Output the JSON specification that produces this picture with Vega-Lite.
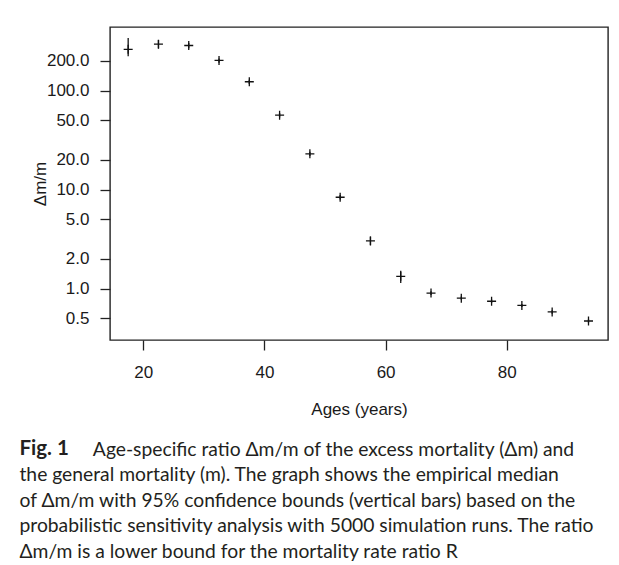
{
  "$schema": "https://vega.github.io/schema/vega-lite/v6.json",
  "autosize": {"type": "none"},
  "padding": {"left": 110, "top": 27, "right": 11, "bottom": 225},
  "width": 498,
  "height": 313,
  "background": "white",
  "config": {
    "view": {"stroke": "#222222", "strokeWidth": 1.4},
    "axis": {"labelFont": "Liberation Sans", "titleFont": "Liberation Sans", "labelFontSize": 17, "titleFontSize": 17, "labelColor": "#1a1a1a", "titleColor": "#1a1a1a", "titleFontWeight": "normal", "tickColor": "#222222", "tickWidth": 1.3, "tickSize": 10, "domain": false, "grid": false}
  },
  "title": {
    "text": "Fig. 1",
    "subtitle": [
      "\u200b\u00a0\u00a0\u00a0\u00a0\u00a0\u00a0\u00a0\u00a0\u00a0\u00a0\u00a0\u00a0\u00a0\u00a0\u00a0Age-specific ratio Δm/m of the excess mortality (Δm) and",
      "the general mortality (m). The graph shows the empirical median",
      "of Δm/m with 95% confidence bounds (vertical bars) based on the",
      "probabilistic sensitivity analysis with 5000 simulation runs. The ratio",
      "Δm/m is a lower bound for the mortality rate ratio R"
    ],
    "orient": "bottom",
    "anchor": "start",
    "frame": "bounds",
    "font": "Lato",
    "fontSize": 20.5,
    "fontWeight": "bold",
    "lineHeight": 19,
    "color": "#231f20",
    "subtitleFont": "Lato",
    "subtitleFontSize": 19.3,
    "subtitleFontWeight": "normal",
    "subtitleColor": "#231f20",
    "subtitleLineHeight": 25.5,
    "subtitlePadding": -19,
    "offset": 22,
    "dx": -12
  },
  "data": {"values": [
    {"age": 17.5, "ratio": 262, "lo": 223, "hi": 340},
    {"age": 22.5, "ratio": 295, "lo": 268, "hi": 325},
    {"age": 27.5, "ratio": 286, "lo": 268, "hi": 303},
    {"age": 32.5, "ratio": 202, "lo": 192, "hi": 212},
    {"age": 37.5, "ratio": 123, "lo": 117, "hi": 129},
    {"age": 42.5, "ratio": 56.5, "lo": 53.5, "hi": 59.5},
    {"age": 47.5, "ratio": 23.0, "lo": 21.9, "hi": 24.2},
    {"age": 52.5, "ratio": 8.37, "lo": 7.95, "hi": 8.8},
    {"age": 57.5, "ratio": 3.03, "lo": 2.75, "hi": 3.35},
    {"age": 62.5, "ratio": 1.33, "lo": 1.14, "hi": 1.51},
    {"age": 67.5, "ratio": 0.90, "lo": 0.86, "hi": 0.94},
    {"age": 72.5, "ratio": 0.80, "lo": 0.77, "hi": 0.83},
    {"age": 77.5, "ratio": 0.744, "lo": 0.715, "hi": 0.775},
    {"age": 82.5, "ratio": 0.675, "lo": 0.65, "hi": 0.70},
    {"age": 87.5, "ratio": 0.58, "lo": 0.557, "hi": 0.603},
    {"age": 93.5, "ratio": 0.47, "lo": 0.452, "hi": 0.488}
  ]},
  "encoding": {
    "x": {"field": "age", "type": "quantitative",
      "scale": {"domain": [14.5, 96.72], "nice": false, "zero": false},
      "axis": {"values": [20, 40, 60, 80], "title": "Ages (years)", "labelPadding": 14, "titlePadding": 21}},
    "y": {"field": "ratio", "type": "quantitative",
      "scale": {"type": "log", "domain": [0.302, 440], "nice": false, "zero": false},
      "axis": {"values": [0.5, 1, 2, 5, 10, 20, 50, 100, 200], "format": ".1f", "title": "Δm/m", "labelPadding": 11, "titlePadding": -3}}
  },
  "layer": [
    {"mark": {"type": "rule", "color": "#111111", "strokeWidth": 1.3},
     "encoding": {"y": {"field": "lo", "type": "quantitative"}, "y2": {"field": "hi"}}},
    {"mark": {"type": "point", "shape": "M-1,0L1,0M0,-1L0,1", "filled": false, "size": 81, "stroke": "#111111", "strokeWidth": 1.3, "opacity": 1}}
  ]
}
